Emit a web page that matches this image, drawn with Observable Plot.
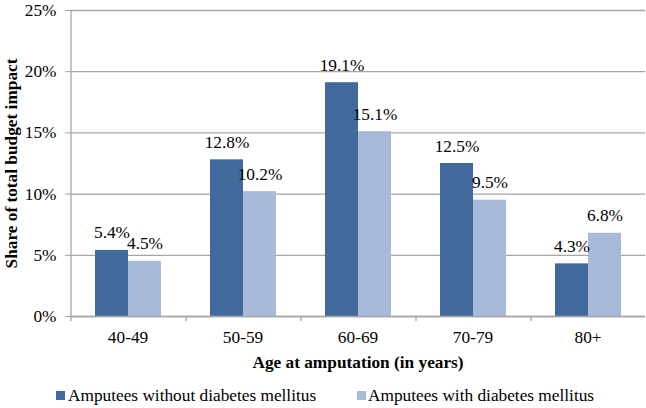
<!DOCTYPE html>
<html>
<head>
<meta charset="utf-8">
<script src="https://cdn.jsdelivr.net/npm/d3@7"></script>
<script src="https://cdn.jsdelivr.net/npm/@observablehq/plot@0.6"></script>
<style>
  body { margin: 0; background: #fff; }
  #chart { position: relative; width: 646px; height: 408px; font-family: 'Liberation Serif', serif; }
  #chart svg { display: block; font-family: 'Liberation Serif', serif; }
  #chart svg text { font-family: 'Liberation Serif', serif; }
  g[aria-label$="axis label"] text { font-weight: bold; font-size: 17.3px; }
  .leg { position: absolute; top: 388px; font-family: 'Liberation Serif', serif; font-size: 17.3px; line-height: 16px; color: #000; white-space: nowrap; }
  .sw { position: absolute; top: 391px; width: 9px; height: 9px; }
</style>
</head>
<body>
<div id="chart"></div>
<script>
const categories = ["40-49", "50-59", "60-69", "70-79", "80+"];
const seriesNames = ["Amputees without diabetes mellitus", "Amputees with diabetes mellitus"];
const withoutDM = [5.4, 12.8, 19.1, 12.5, 4.3];
const withDM = [4.5, 10.2, 15.1, 9.5, 6.8];
const yTicks = [0, 5, 10, 15, 20, 25];
const colors = ["#41699c", "#a9b9da"];
const axisTitleX = "Age at amputation (in years)";
const axisTitleY = "Share of total budget impact";

const rows = categories.flatMap((c, i) => [
  {cat: c, series: seriesNames[0], value: withoutDM[i]},
  {cat: c, series: seriesNames[1], value: withDM[i]}
]);

const serif = "Liberation Serif";
const fs = 17.3;
const gray = "#a6a6a6";
const plot = Plot.plot({
  width: 646,
  height: 376,
  marginLeft: 70,
  marginRight: 1,
  marginTop: 10,
  marginBottom: 60,
  style: {fontFamily: serif, fontSize: fs + "px", color: "#000", background: "#fff"},
  fx: {domain: categories, padding: 0},
  x: {domain: seriesNames, paddingInner: 0, paddingOuter: 0.74, axis: null},
  y: {domain: [0, 25]},
  color: {domain: seriesNames, range: colors},
  marks: [
    Plot.gridY(yTicks, {stroke: gray, strokeOpacity: 1, strokeWidth: 1.3}),
    Plot.axisY(yTicks, {tickFormat: d => d + "%", tickSize: 5, tickPadding: 9, stroke: gray, fill: "#000", fontSize: fs, fontFamily: serif,
      label: axisTitleY, labelAnchor: "center", labelOffset: 66, labelArrow: "none"}),
    Plot.axisFx({anchor: "bottom", tickSize: 0, tickPadding: 14, fill: "#000", fontSize: fs, fontFamily: serif,
      label: axisTitleX, labelAnchor: "center", labelOffset: 51, labelArrow: "none"}),
    Plot.barY(rows, {fx: "cat", x: "series", y: "value", fill: "series"}),
    Plot.ruleY([0], {stroke: gray, strokeWidth: 1.3}),
    Plot.ruleX([categories[0]], {fx: d => d, x: () => seriesNames[0], dx: -41, y1: 0, y2: 25, stroke: gray, strokeWidth: 1.3}),
    Plot.ruleX(categories, {fx: d => d, x: () => seriesNames[0], dx: -41, y1: 0, y2: 0, insetBottom: -5, stroke: gray, strokeWidth: 1.3}),
    Plot.ruleX([categories[categories.length - 1]], {fx: d => d, x: () => seriesNames[1], dx: 57, y1: 0, y2: 0, insetBottom: -5, stroke: gray, strokeWidth: 1.3}),
    Plot.text(rows, {fx: "cat", x: "series", y: "value", text: d => d.value.toFixed(1) + "%", lineAnchor: "bottom", dy: -12, fill: "#000", fontSize: fs, fontFamily: serif})
  ]
});
const chart = document.getElementById("chart");
chart.appendChild(plot);

// legend
const legendPos = [{sw: 56, tx: 68}, {sw: 357, tx: 368}];
seriesNames.forEach((name, i) => {
  const sw = document.createElement("div");
  sw.className = "sw";
  sw.style.left = legendPos[i].sw + "px";
  sw.style.background = colors[i];
  chart.appendChild(sw);
  const t = document.createElement("div");
  t.className = "leg";
  t.style.left = legendPos[i].tx + "px";
  t.textContent = name;
  chart.appendChild(t);
});
</script>
</body>
</html>
